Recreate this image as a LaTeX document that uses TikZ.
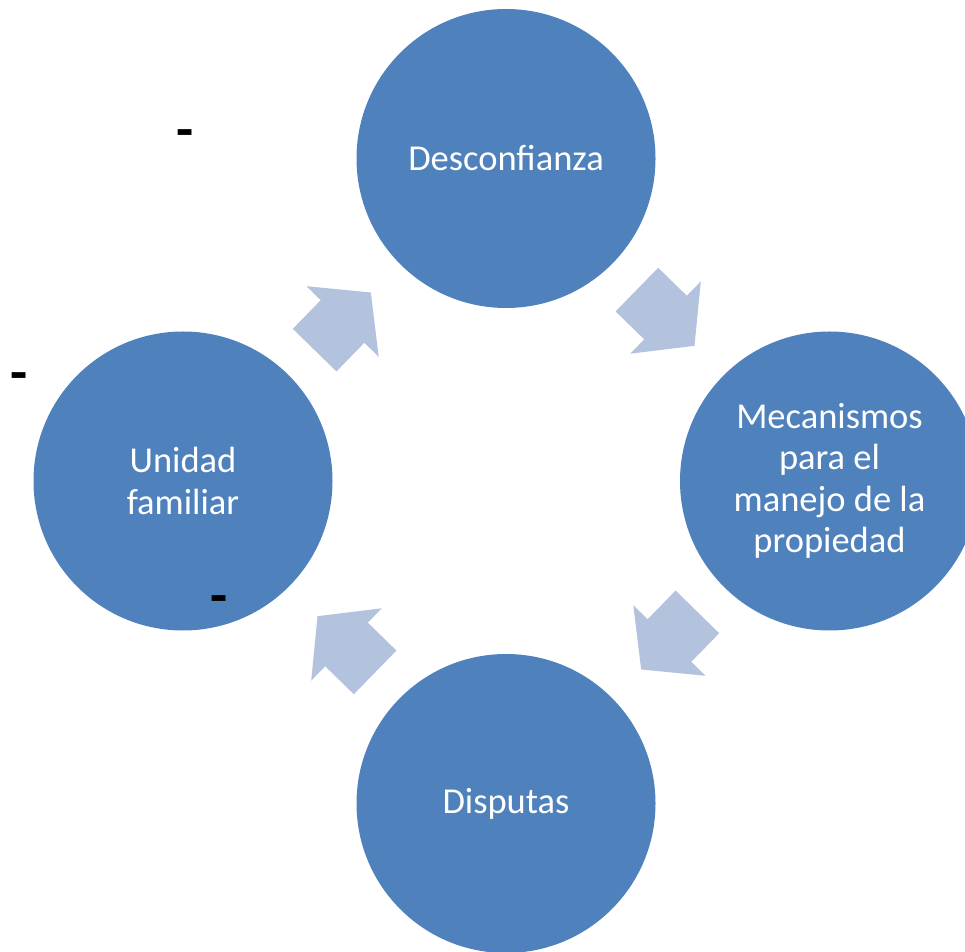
\documentclass[tikz,border=0pt]{standalone}
\usepackage{fontspec}
\setmainfont{Carlito}
\definecolor{circblue}{RGB}{79,129,189}
\definecolor{arrowblue}{RGB}{179,194,221}
\tikzset{
    ciclo/.style={circle, fill=circblue, minimum size=299pt, inner sep=0pt,
        text=white, align=center, font=\fontsize{36.5}{41.5}\selectfont},
    flecha/.style={fill=arrowblue},
    guion/.style={font=\fontsize{56}{60}\selectfont\bfseries}
}
\begin{document}
\begin{tikzpicture}[x=1pt, y=1pt]
    \useasboundingbox (0,0) rectangle (965,951);
\node[ciclo] (desc) at (506,792.5) {Desconfianza};
\node[ciclo] (meca) at (829.5,470) {Mecanismos\\para el\\manejo de la\\propiedad};
\node[ciclo] (disp) at (506,147.5) {Disputas};
\node[ciclo] (unid) at (183,470) {Unidad\\familiar};
\foreach \a in {45.7,135.7,225.7,315.7}
{
    \fill[flecha, shift={(506,470)}, rotate=\a]
        (197.9,40)--(197.9,0)--(177.9,0)--(228.4,-40.5)--(278.9,0)--(258.9,0)--(258.9,40)--cycle;
}
\node[guion] (g1) at (185.5,812) {-};
\node[guion] (g2) at (19,569) {-};
\node[guion] (g3) at (219,346) {-};

\end{tikzpicture}
\end{document}
